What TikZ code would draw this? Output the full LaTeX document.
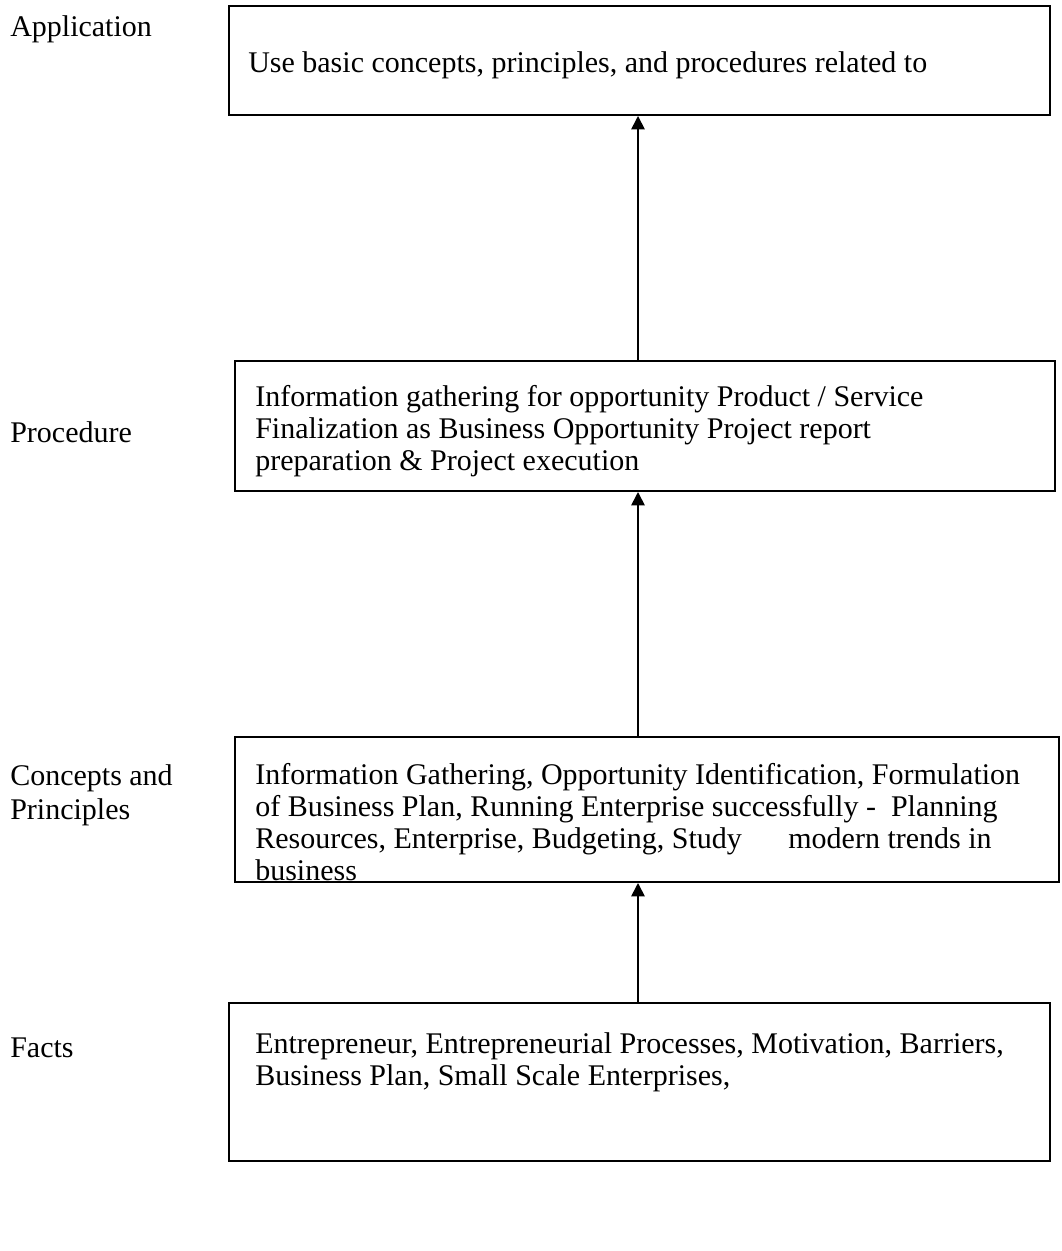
\documentclass[tikz,border=0pt]{standalone}
\usepackage{fontspec}
\setmainfont{Liberation Serif}
\usetikzlibrary{arrows.meta,fit}
\tikzset{
  box/.style={draw, line width=1.5pt, inner sep=0pt},
  txt/.style={inner sep=0pt, align=left, anchor=north west,
    font=\fontsize{22.5pt}{24pt}\selectfont},
  lbl/.style={inner sep=0pt, align=left, anchor=north west,
    font=\fontsize{22.5pt}{26pt}\selectfont},
  arr/.style={line width=1.3pt, -{Triangle[length=10pt,width=10pt]}}
}
\begin{document}
\begin{tikzpicture}[x=0.75pt,y=-0.75pt]
\useasboundingbox (0,0) rectangle (1061,1251);
% corners
\coordinate (b1a) at (229,6);   \coordinate (b1b) at (1050,115);
\coordinate (b2a) at (235,361); \coordinate (b2b) at (1055,491);
\coordinate (b3a) at (235,737); \coordinate (b3b) at (1059,882);
\coordinate (b4a) at (229,1003); \coordinate (b4b) at (1050,1161);
\coordinate (ax) at (638,0);
% boxes
\node[box, fit=(b1a)(b1b)] (b1) {};
\node[box, fit=(b2a)(b2b)] (b2) {};
\node[box, fit=(b3a)(b3b)] (b3) {};
\node[box, fit=(b4a)(b4b)] (b4) {};
% box texts
\node[txt] (t1) at (248,51) {Use basic concepts, principles, and procedures related to};
\node[txt] (t2) at (255,385) {Information gathering for opportunity Product / Service\\
Finalization as Business Opportunity Project report\\
preparation \& Project execution};
\node[txt] (t3) at (255,763) {Information Gathering, Opportunity Identification, Formulation\\
of Business Plan, Running Enterprise successfully - \ Planning\\
Resources, Enterprise, Budgeting, Study\hspace{1.3em} modern trends in\\
business};
\node[txt] (t4) at (255,1032) {Entrepreneur, Entrepreneurial Processes, Motivation, Barriers,\\
Business Plan, Small Scale Enterprises,};
% left labels
\node[lbl] (l1) at (10,15) {Application};
\node[lbl] (l2) at (10,421) {Procedure};
\node[lbl] (l3) at (10,764) {Concepts and\\Principles};
\node[lbl] (l4) at (10,1038) {Facts};
% arrows
\draw[arr] (b2.north -| ax) -- (b1.south -| ax);
\draw[arr] (b3.north -| ax) -- (b2.south -| ax);
\draw[arr] (b4.north -| ax) -- (b3.south -| ax);
\end{tikzpicture}
\end{document}
